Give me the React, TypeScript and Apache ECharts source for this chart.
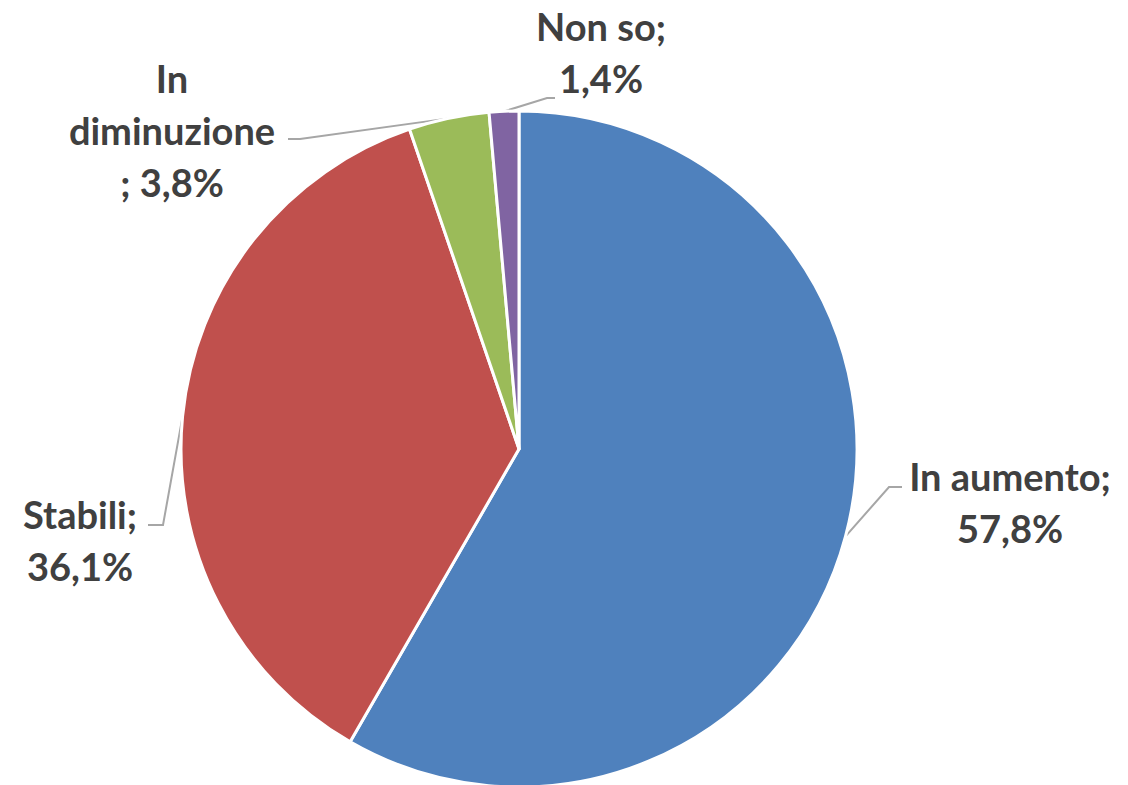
import React, { useEffect, useRef } from "react";
import * as echarts from "echarts";

const categories = ["In aumento", "Stabili", "In diminuzione", "Non so"];
const values = [57.8, 36.1, 3.8, 1.4];
const labelNames = ["In aumento;", "Stabili;", "In\ndiminuzione\n;", "Non so;"];
const colors = ["#4F81BD", "#C0504D", "#9BBB59", "#8064A2"];

const labelPos = [
  { x: 1010, y: 502 },
  { x: 80, y: 540 },
  { x: 172, y: 130 },
  { x: 601, y: 52 },
];
const lineElbows = [
  [[889, 487], [902, 487]],
  [[163, 525], [148, 525]],
  [[300, 139], [288, 139]],
  [[547, 98], [555, 98]],
];

export default function App() {
  const ref = useRef<HTMLDivElement>(null);
  useEffect(() => {
    if (!ref.current) return;
    const chart = echarts.init(ref.current, null, { renderer: "svg" });
    chart.setOption({
      animation: false,
      backgroundColor: "#ffffff",
      series: [
        {
          type: "pie",
          center: [519, 449],
          radius: 338,
          startAngle: 90,
          clockwise: true,
          data: categories.map((c, i) => ({
            name: c,
            value: values[i],
            itemStyle: { color: colors[i] },
          })),
          itemStyle: { borderColor: "#ffffff", borderWidth: 3 },
          label: {
            show: true,
            position: "outside",
            fontFamily: "Lato",
            fontWeight: "bold",
            fontSize: 38,
            lineHeight: 52,
            color: "#404040",
            align: "center",
            formatter: (p: any) => {
              const nm = labelNames[p.dataIndex];
              const v = String(values[p.dataIndex]).replace(".", ",") + "%";
              return nm.endsWith(";") && nm.includes("\n") ? nm + " " + v : nm + "\n" + v;
            },
          },
          labelLine: {
            show: true,
            length: 20,
            length2: 15,
            lineStyle: { color: "#A6A6A6", width: 2 },
          },
          labelLayout: (params: any) => {
            const i = params.dataIndex;
            const p = labelPos[i];
            const res: any = { x: p.x, y: p.y, align: "center", verticalAlign: "middle" };
            if (params.labelLinePoints && params.labelLinePoints[0]) {
              res.labelLinePoints = [params.labelLinePoints[0], lineElbows[i][0], lineElbows[i][1]];
            }
            return res;
          },
        },
      ],
    });
    return () => chart.dispose();
  }, []);
  return (
    <div
      ref={ref}
      style={{ position: "fixed", left: 0, top: 0, width: 1128, height: 785 }}
    />
  );
}
